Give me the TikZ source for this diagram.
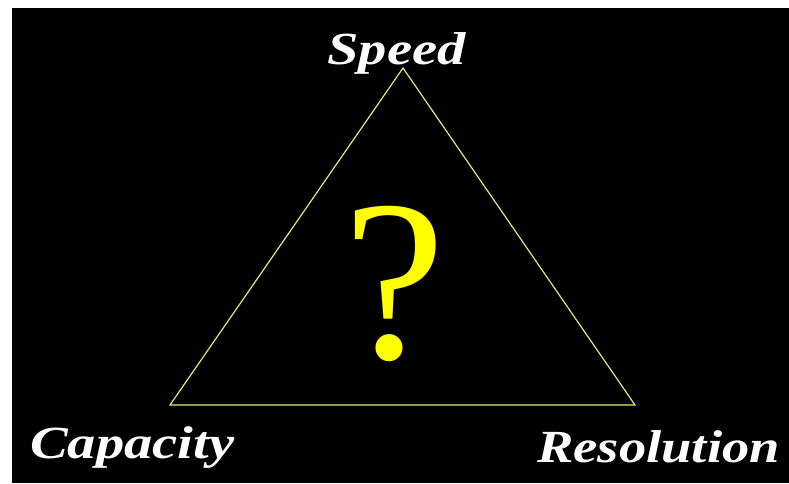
\documentclass[tikz,border=0pt]{standalone}
\usepackage{fontspec}
\setmainfont{Liberation Serif}
\definecolor{trifill}{HTML}{E6E67A}
\definecolor{qyellow}{HTML}{FFFF00}
\begin{document}
\begin{tikzpicture}[x=1pt,y=1pt,
  lbl/.style={text=white, font=\fontsize{46}{46}\selectfont\bfseries\itshape, inner sep=0pt, anchor=base west, xscale=1.23},
  edge/.style={draw=trifill, line width=1.2pt}]
\useasboundingbox (0,0) rectangle (789,483);
\fill[white] (0,0) rectangle (789,483);
\fill[black] (12,0) rectangle (789,475);
\coordinate (top) at (403,415);
\coordinate (bl) at (170,78);
\coordinate (br) at (635,78);
\draw[edge] (top) -- (br) -- (bl) -- cycle;
\node[text=qyellow, font=\fontsize{230}{230}\selectfont, inner sep=0pt, anchor=base] (q) at (395,125) {?};
\node[lbl] (speed) at (327,418) {Speed};
\node[lbl] (cap) at (30,25) {Capacity};
\node[lbl, xscale=0.965] (res) at (537,21) {Resolution};
\end{tikzpicture}
\end{document}
